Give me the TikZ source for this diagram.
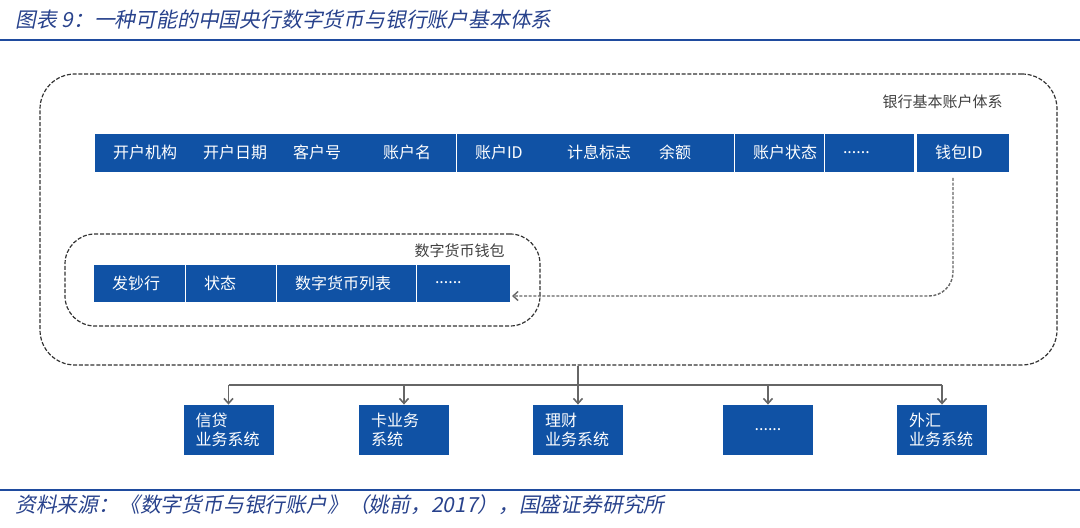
\documentclass[tikz,border=0pt]{standalone}
\usepackage{fontspec}
\setmainfont{Noto Sans CJK SC}
\newfontfamily\slantcjk{Noto Sans CJK SC}[FakeSlant=0.2]
\usepackage{xcolor}
\usetikzlibrary{arrows.meta, calc, positioning}

\definecolor{acct}{RGB}{16,82,165}
\definecolor{hdrblue}{RGB}{31,75,158}
\definecolor{capblue}{RGB}{40,66,140}
\definecolor{grplabel}{RGB}{64,64,64}

\tikzset{
  fld/.style={fill=acct, draw=acct, line width=0.2pt, outer sep=0pt, text=white, minimum height=18.5pt,
    inner xsep=0pt, inner ysep=0pt, text width=#1, align=left,
    font=\fontsize{8}{9}\selectfont, execute at begin node={\hspace*{9pt}}},
  fld/.default=45pt,
  grp/.style={draw=black!80, line width=0.6pt, dash pattern=on 2pt off 0.9pt, inner sep=0pt},
  grplbl/.style={text=grplabel, font=\fontsize{7.5}{9}\selectfont, inner sep=0pt},
  sys/.style={fill=acct, text=white, minimum height=25pt, inner xsep=6pt, text width=33pt,
    align=left, font=\fontsize{8}{9.5}\selectfont},
  link/.style={draw=black!60, line width=0.7pt, dash pattern=on 1.5pt off 0.8pt,
    -{Straight Barb[length=2.5pt,width=4.5pt]}},
  bus/.style={draw=black!60, line width=0.8pt},
  busarrow/.style={bus, -{Straight Barb[length=2.5pt,width=4.5pt]}},
}

\begin{document}
\begin{tikzpicture}[x=0.5pt, y=-0.5pt]
\useasboundingbox (0,0) rectangle (1080,528);

% Title
\node[anchor=west, text=capblue, font=\slantcjk\fontsize{10.4}{12}\selectfont, inner sep=0pt] (title) at (15,20) {图表 9：一种可能的中国央行数字货币与银行账户基本体系};
\draw[hdrblue, line width=1.2pt] (0,40) -- (1080,40);

% Bank account fields
\node[fld, anchor=west] (org) at (95,152.5) {开户机构};
\node[fld, right=0pt of org] (odate) {开户日期};
\node[fld, right=0pt of odate] (cust) {客户号};
\node[fld, right=0pt of cust] (aname) {账户名};
\node[fld=46pt, right=1pt of aname] (aid) {账户ID};
\node[fld=46pt, right=0pt of aid] (intr) {计息标志};
\node[fld=46pt, right=0pt of intr] (bal) {余额};
\node[fld=44pt, right=1pt of bal] (astat) {账户状态};
\node[fld=44pt, right=1pt of astat] (adots) {......};
\node[fld=45.5pt, right=2pt of adots] (wid) {钱包ID};

% Wallet fields
\node[fld, minimum height=18pt, anchor=west] (issuer) at (94,283) {发钞行};
\node[fld=44.5pt, minimum height=18pt, right=1pt of issuer] (wstat) {状态};
\node[fld=69pt, minimum height=18pt, right=1pt of wstat] (clist) {数字货币列表};
\node[fld=46pt, minimum height=18pt, right=1pt of clist] (wmore) {......};

% Groups
\node[grp, rounded corners=15pt, minimum width=237.5pt, minimum height=46pt] (wallet) at (302.5,280) {};
\node[grplbl, anchor=east] (wallettitle) at (505,251) {数字货币钱包};
\node[grp, rounded corners=17.5pt, minimum width=508.5pt, minimum height=145.5pt] (bank) at (548.5,219.5) {};
\node[grplbl, anchor=east] (banktitle) at (1003,102) {银行基本账户体系};

% Wallet ID link
\draw[link, rounded corners=12pt] ([xshift=-4.75pt,yshift=-3.5pt]wid.south) |- ([xshift=1.5pt,yshift=-6.5pt]wmore.east);

% Business systems
\node[sys] (s1) at (228.5,430) {信贷\\业务系统};
\node[sys] (s2) at (404,430) {卡业务\\系统};
\node[sys] (s3) at (578,430) {理财\\业务系统};
\node[sys, align=center] (s4) at (768,430) {......};
\node[sys] (s5) at (942,430) {外汇\\业务系统};

\coordinate (bus) at (578,385);
\draw[bus] (bus |- bank.south) -- (bus);
\draw[bus] (bus -| s1) -- (bus -| s5);
\draw[busarrow] (bus -| s1) -- (s1.north);
\draw[busarrow] (bus -| s2) -- (s2.north);
\draw[busarrow] (bus -| s3) -- (s3.north);
\draw[busarrow] (bus -| s4) -- (s4.north);
\draw[busarrow] (bus -| s5) -- (s5.north);

% Source
\draw[hdrblue, line width=1.2pt] (0,490) -- (1080,490);
\node[anchor=west, text=capblue, font=\slantcjk\fontsize{10.4}{12}\selectfont, inner sep=0pt] (source) at (15,505) {资料来源：《数字货币与银行账户》（姚前，2017），国盛证券研究所};

\end{tikzpicture}
\end{document}
